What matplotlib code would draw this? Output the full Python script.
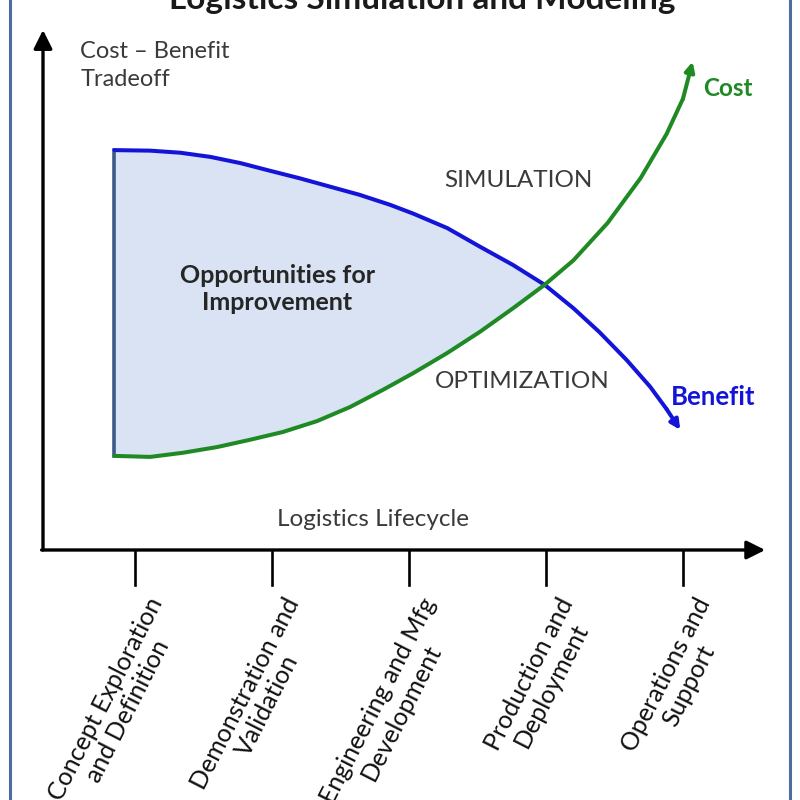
import numpy as np
import matplotlib.pyplot as plt
from matplotlib.lines import Line2D

plt.rcParams['font.family'] = ['Lato', 'DejaVu Sans']

# lifecycle stages (x = stage index)
stages = ["Concept Exploration\nand Definition",
          "Demonstration and\nValidation",
          "Engineering and Mfg\nDevelopment",
          "Production and\nDeployment",
          "Operations and\nSupport"]

# benefit curve
benefit_x = [-0.15, 0.11, 0.33, 0.55, 0.77, 0.99, 1.20, 1.42, 1.64, 1.86, 2.03,
             2.28, 2.52, 2.76, 2.99, 3.20, 3.39, 3.59, 3.76, 3.88, 3.98]
benefit_y = [7.69, 7.68, 7.64, 7.56, 7.44, 7.29, 7.15, 6.99, 6.83, 6.64, 6.47,
             6.19, 5.83, 5.48, 5.10, 4.65, 4.19, 3.65, 3.14, 2.71, 2.31]

# cost curve
cost_x = [-0.15, 0.11, 0.35, 0.60, 0.84, 1.08, 1.33, 1.57, 1.81, 2.03, 2.28,
          2.52, 2.76, 2.99, 3.20, 3.45, 3.69, 3.88, 4.00, 4.07]
cost_y = [1.81, 1.79, 1.87, 1.98, 2.12, 2.27, 2.48, 2.75, 3.08, 3.40, 3.79,
          4.20, 4.65, 5.10, 5.57, 6.29, 7.15, 8.00, 8.68, 9.39]

BLUE = '#1414d8'
GREEN = '#1f8a24'
TXT = '#3a3a3a'

fig = plt.figure(figsize=(8, 8), dpi=100)
ax = fig.add_axes([0, 0, 1, 1])
# 1 stage = 137 px, stage 0 at px 135; 1 unit in y = 52 px, y=0 at px 550
ax.set_xlim((0 - 135) / 137, (800 - 135) / 137)
ax.set_ylim((550 - 800) / 52, (550 - 0) / 52)
ax.axis('off')

# shaded opportunity area between the curves up to where they cross
ib = benefit_x.index(2.99)
ic = cost_x.index(2.99)
ax.fill(benefit_x[:ib + 1] + cost_x[:ic + 1][::-1],
        benefit_y[:ib + 1] + cost_y[:ic + 1][::-1], color='#d9e3f3', zorder=1)
ax.plot([benefit_x[0], cost_x[0]], [benefit_y[0], cost_y[0]], color='#3b5b86', lw=2.6, zorder=2)

# curves with arrow heads
arr = dict(arrowstyle='-|>', lw=2.9, mutation_scale=14, shrinkA=0, shrinkB=0)
ax.plot(benefit_x[:-1], benefit_y[:-1], color=BLUE, lw=2.9, solid_capstyle='round',
        solid_joinstyle='round', zorder=3)
ax.annotate('', xy=(benefit_x[-1], benefit_y[-1]), xytext=(benefit_x[-2], benefit_y[-2]),
            arrowprops=dict(arr, color=BLUE), zorder=3)
ax.plot(cost_x[:-1], cost_y[:-1], color=GREEN, lw=2.9, solid_capstyle='round',
        solid_joinstyle='round', zorder=4)
ax.annotate('', xy=(cost_x[-1], cost_y[-1]), xytext=(cost_x[-2], cost_y[-2]),
            arrowprops=dict(arr, color=GREEN), zorder=4)

# axes arrows
x0 = (43 - 135) / 137
ax.annotate('', xy=(x0, 10.0), xytext=(x0, 0),
            arrowprops=dict(arrowstyle='-|>', color='black', lw=2.4, mutation_scale=28, shrinkA=0, shrinkB=0))
ax.annotate('', xy=(4.6, 0), xytext=(x0 - 0.01, 0),
            arrowprops=dict(arrowstyle='-|>', color='black', lw=2.4, mutation_scale=28, shrinkA=0, shrinkB=0))

# ticks and stage labels
for i, lab in enumerate(stages):
    ax.plot([i, i], [0, -0.67], color='black', lw=1.9)
    ax.text(i + 0.08, -0.85, lab, rotation=63, rotation_mode='anchor', ha='right', va='top',
            multialignment='center', fontsize=18, color='#111111', linespacing=1.12)

# labels
ax.text(-0.40, 9.78, "Cost – Benefit\nTradeoff", ha='left', va='top', fontsize=17, color=TXT, linespacing=1.4)
ax.text(2.80, 7.10, "SIMULATION", ha='center', va='center', fontsize=17.5, color=TXT)
ax.text(2.83, 3.25, "OPTIMIZATION", ha='center', va='center', fontsize=17.5, color=TXT)
ax.text(1.04, 5.02, "Opportunities for\nImprovement", ha='center', va='center', fontsize=18,
        fontweight='bold', color='#262626', linespacing=1.25)
ax.text(4.15, 8.88, "Cost", ha='left', va='center', fontsize=17.5, fontweight='bold', color=GREEN)
ax.text(3.91, 2.94, "Benefit", ha='left', va='center', fontsize=18.5, fontweight='bold', color=BLUE)
ax.text(1.74, 0.58, "Logistics Lifecycle", ha='center', va='center', fontsize=17.5, color=TXT)

# title (cut off at the top like the original) and frame
fig.text(0.528, 1 - 9 / 800, "Logistics Simulation and Modeling", ha='center', va='baseline',
         fontsize=24, fontweight='bold', color='#1a1a1a')
for xf in (10 / 800, 790 / 800):
    fig.add_artist(Line2D([xf, xf], [0, 1], color='#4a6c9e', lw=2.2))

fig.savefig('out.png', dpi=100, facecolor='white')
